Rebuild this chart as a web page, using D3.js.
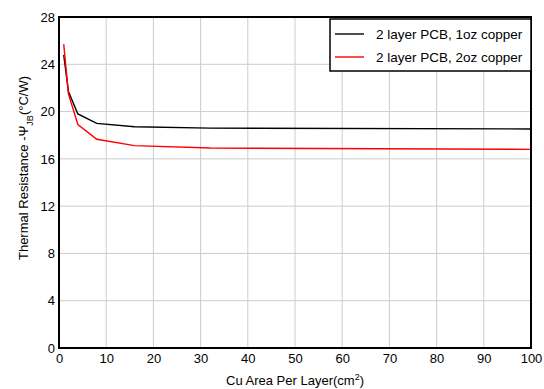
<!DOCTYPE html>
<html>
<head>
<meta charset="utf-8">
<script src="https://cdn.jsdelivr.net/npm/d3@7"></script>
<style>
  body { margin: 0; background: #fff; }
  text { font-family: "Liberation Sans", Arial, sans-serif; }
</style>
</head>
<body>
<div id="chart"></div>
<script>
// values
const areas = [1, 2, 4, 8, 16, 32, 100];
const oneOz = [24.8, 21.7, 19.8, 19.0, 18.72, 18.6, 18.53];
const twoOz = [25.7, 21.5, 18.9, 17.66, 17.12, 16.92, 16.8];
const seriesNames = ["2 layer PCB, 1oz copper", "2 layer PCB, 2oz copper"];
const seriesColors = ["#000000", "#ff0000"];
const xTicks = [0, 10, 20, 30, 40, 50, 60, 70, 80, 90, 100];
const yTicks = [0, 4, 8, 12, 16, 20, 24, 28];

const W = 544, H = 389;
const margin = { top: 17, right: 13, bottom: 41, left: 59 };
const width = W - margin.left - margin.right;
const height = H - margin.top - margin.bottom;

const svg = d3.select("#chart").append("svg")
    .attr("width", W)
    .attr("height", H);

const g = svg.append("g")
    .attr("transform", `translate(${margin.left},${margin.top})`);

const x = d3.scaleLinear().domain([0, 100]).range([0, width]);
const y = d3.scaleLinear().domain([0, 28]).range([height, 0]);

// grid
g.append("g")
    .selectAll("line")
    .data(xTicks)
    .enter().append("line")
    .attr("x1", d => x(d)).attr("x2", d => x(d))
    .attr("y1", 0).attr("y2", height)
    .attr("stroke", "#cccccc").attr("stroke-width", 1);
g.append("g")
    .selectAll("line")
    .data(yTicks)
    .enter().append("line")
    .attr("x1", 0).attr("x2", width)
    .attr("y1", d => y(d)).attr("y2", d => y(d))
    .attr("stroke", "#cccccc").attr("stroke-width", 1);

// axes (no tick marks, just labels)
const xAxis = d3.axisBottom(x).tickValues(xTicks).tickSize(0).tickPadding(6);
const yAxis = d3.axisLeft(y).tickValues(yTicks).tickSize(0).tickPadding(4);

g.append("g")
    .attr("transform", `translate(0,${height})`)
    .call(xAxis)
    .call(a => a.select(".domain").remove())
    .selectAll("text")
    .style("font-size", "13px")
    .attr("fill", "#000");

g.append("g")
    .call(yAxis)
    .call(a => a.select(".domain").remove())
    .selectAll("text")
    .style("font-size", "13px")
    .attr("fill", "#000");

// lines
const series = [oneOz, twoOz];
const line = d3.line()
    .x((d, i) => x(areas[i]))
    .y(d => y(d));

series.forEach((s, k) => {
    g.append("path")
        .datum(s)
        .attr("fill", "none")
        .attr("stroke", seriesColors[k])
        .attr("stroke-width", 1.4)
        .attr("d", line);
});

// frame
g.append("rect")
    .attr("x", 0).attr("y", 0)
    .attr("width", width).attr("height", height)
    .attr("fill", "none")
    .attr("stroke", "#000")
    .attr("stroke-width", 2);

// legend
const lg = g.append("g")
    .attr("transform", `translate(${width - 201},2)`);
lg.append("rect")
    .attr("width", 201).attr("height", 52)
    .attr("fill", "#fff")
    .attr("stroke", "#000")
    .attr("stroke-width", 1.5);
seriesNames.forEach((name, k) => {
    const yy = 15 + k * 23;
    lg.append("line")
        .attr("x1", 5).attr("x2", 34)
        .attr("y1", yy).attr("y2", yy)
        .attr("stroke", seriesColors[k])
        .attr("stroke-width", 1.4);
    lg.append("text")
        .attr("x", 46).attr("y", yy)
        .attr("dy", "0.35em")
        .style("font-size", "13.5px")
        .text(name);
});

// x label
const xl = svg.append("text")
    .attr("x", margin.left + width / 2)
    .attr("y", H - 4)
    .attr("text-anchor", "middle")
    .style("font-size", "13px");
xl.append("tspan").text("Cu Area Per Layer(cm");
xl.append("tspan").attr("baseline-shift", "super").style("font-size", "9px").text("2");
xl.append("tspan").text(")");

// y label
const yl = svg.append("text")
    .attr("transform", `translate(28,168) rotate(-90)`)
    .attr("text-anchor", "middle")
    .style("font-size", "13px");
yl.append("tspan").text("Thermal Resistance -\u03A8");
yl.append("tspan").attr("baseline-shift", "sub").style("font-size", "9px").text("JB");
yl.append("tspan").text("(\u00B0C/W)");
</script>
</body>
</html>
